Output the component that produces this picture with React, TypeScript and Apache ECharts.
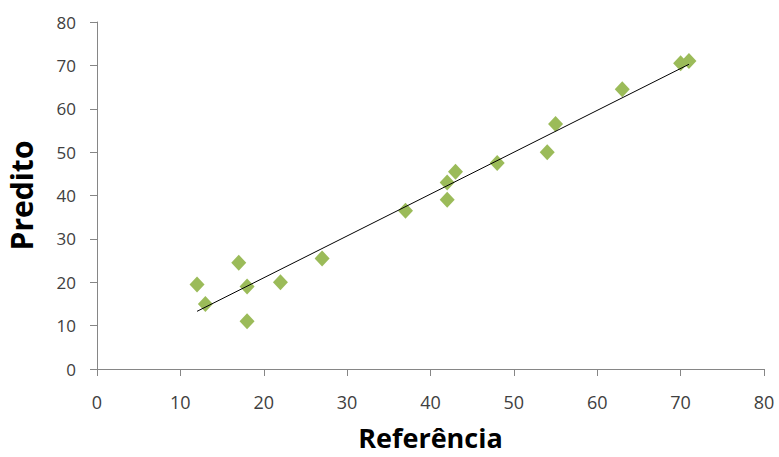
import React, { useEffect, useRef } from "react";
import * as echarts from "echarts";

const referencia: number[] = [12, 13, 17, 18, 18, 22, 27, 37, 42, 42, 43, 48, 54, 55, 63, 70, 71];
const predito: number[] = [19.5, 15, 24.5, 19, 11, 20, 25.5, 36.5, 43, 39, 45.5, 47.5, 50, 56.5, 64.5, 70.5, 71];
const xTicks = { min: 0, max: 80, interval: 10 };
const yTicks = { min: 0, max: 80, interval: 10 };

function linearFit(xs: number[], ys: number[]) {
  const n = xs.length;
  const mx = xs.reduce((a, b) => a + b, 0) / n;
  const my = ys.reduce((a, b) => a + b, 0) / n;
  let sxy = 0, sxx = 0;
  for (let i = 0; i < n; i++) {
    sxy += (xs[i] - mx) * (ys[i] - my);
    sxx += (xs[i] - mx) * (xs[i] - mx);
  }
  const slope = sxy / sxx;
  return { slope, intercept: my - slope * mx };
}

export default function App() {
  const ref = useRef<HTMLDivElement>(null);
  useEffect(() => {
    if (!ref.current) return;
    const chart = echarts.init(ref.current, null, { renderer: "svg" });
    const fit = linearFit(referencia, predito);
    const x0 = Math.min(...referencia);
    const x1 = Math.max(...referencia);
    const font = "'Open Sans', sans-serif";
    const axisColor = "#868686";
    chart.setOption({
      animation: false,
      backgroundColor: "#ffffff",
      grid: { left: 97, right: 15, top: 22, bottom: 88, outerBoundsMode: "none", containLabel: false },
      xAxis: {
        type: "value",
        min: xTicks.min,
        max: xTicks.max,
        interval: xTicks.interval,
        name: "Referência",
        nameLocation: "middle",
        nameGap: 55,
        nameTextStyle: { fontFamily: font, fontWeight: "bold", fontSize: 27, lineHeight: 27, color: "#000" },
        axisLine: { show: true, lineStyle: { color: axisColor, width: 1 } },
        axisTick: { show: true, inside: false, length: 7, lineStyle: { color: axisColor } },
        axisLabel: { fontFamily: font, fontSize: 18, color: "#404040", margin: 24 },
        splitLine: { show: false },
      },
      yAxis: {
        type: "value",
        min: yTicks.min,
        max: yTicks.max,
        interval: yTicks.interval,
        name: "Predito",
        nameLocation: "middle",
        nameGap: 61,
        nameTextStyle: { fontFamily: font, fontWeight: "bold", fontSize: 30, color: "#000" },
        axisLine: { show: true, lineStyle: { color: axisColor, width: 1 } },
        axisTick: { show: true, inside: false, length: 7, lineStyle: { color: axisColor } },
        axisLabel: { fontFamily: font, fontSize: 17, color: "#404040", margin: 21 },
        splitLine: { show: false },
      },
      series: [
        {
          type: "line",
          data: [
            [x0, fit.intercept + fit.slope * x0],
            [x1, fit.intercept + fit.slope * x1],
          ],
          symbol: "none",
          lineStyle: { color: "#000000", width: 1 },
          z: 3,
        },
        {
          type: "scatter",
          data: referencia.map((x, i) => [x, predito[i]]),
          symbol: "diamond",
          symbolSize: [15, 16],
          itemStyle: { color: "#9BBB59", opacity: 1 },
          z: 2,
        },
      ],
    });
    return () => chart.dispose();
  }, []);
  return <div ref={ref} style={{ width: 779, height: 457, position: "absolute", left: 0, top: 0 }} />;
}
